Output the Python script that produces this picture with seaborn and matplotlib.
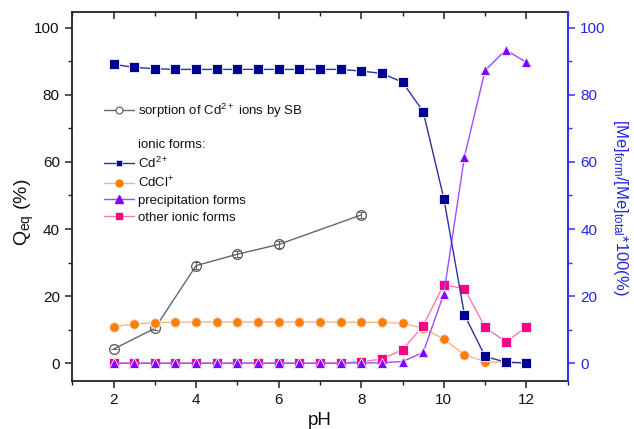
import numpy as np
import pandas as pd
import matplotlib
matplotlib.use("Agg")
import matplotlib.pyplot as plt
from matplotlib.lines import Line2D
from matplotlib.ticker import MultipleLocator
import seaborn as sns

# ---- data ----
ph_forms = [2, 2.5, 3, 3.5, 4, 4.5, 5, 5.5, 6, 6.5, 7, 7.5, 8, 8.5, 9, 9.5, 10, 10.5, 11, 11.5, 12]
cd2 = [89.1, 88.2, 87.8, 87.6, 87.6, 87.6, 87.6, 87.6, 87.6, 87.6, 87.6, 87.6, 87.1, 86.4, 83.8, 75.0, 49.1, 14.4, 2.0, 0.3, 0.1]
cdcl = [10.9, 11.7, 12.1, 12.2, 12.3, 12.3, 12.3, 12.3, 12.3, 12.3, 12.3, 12.2, 12.2, 12.2, 11.9, 10.4, 7.2, 2.5, 0.5, 0.1, 0.0]
precip = [0, 0, 0, 0, 0, 0, 0, 0, 0, 0, 0, 0, 0.1, 0.1, 0.5, 3.2, 20.7, 61.6, 87.3, 93.4, 89.7]
other = [0, 0, 0, 0, 0, 0, 0, 0, 0, 0, 0, 0, 0.5, 1.2, 4.0, 11.2, 23.4, 22.2, 10.7, 6.4, 10.7]

ph_sorp = [2, 3, 4, 5, 6, 8]
sorption = [4.2, 10.4, 29.1, 32.5, 35.4, 44.2]
sorption_err = [0.0, 0.6, 1.0, 0.8, 1.0, 1.0]

x_ticks = [2, 4, 6, 8, 10, 12]
y_ticks = [0, 20, 40, 60, 80, 100]

sns.set_theme(style="ticks")
plt.rcParams['font.family'] = ['Liberation Sans', 'DejaVu Sans']
plt.rcParams['mathtext.fontset'] = 'custom'
plt.rcParams['mathtext.rm'] = 'Liberation Sans'
plt.rcParams['mathtext.it'] = 'Liberation Sans'
plt.rcParams['mathtext.default'] = 'regular'

fig = plt.figure(figsize=(6.34, 4.29), dpi=100)
ax = fig.add_axes([0.114, 0.112, 0.7814, 0.8607])
ax2 = ax.twinx()

# sorption on left axis
df_s = pd.DataFrame({"pH": ph_sorp, "Q": sorption})
ax.errorbar(ph_sorp, sorption, yerr=sorption_err, fmt='none', ecolor='#606060',
            elinewidth=0.7, capsize=2.5, capthick=0.7, zorder=4)
sns.lineplot(data=df_s, x="pH", y="Q", ax=ax, color='#666666', linewidth=1.0,
             marker='o', markersize=7, markerfacecolor='none',
             markeredgecolor='#555555', markeredgewidth=0.9, zorder=3)

# ionic forms on right axis
series = [
    (cdcl, '#ffb380', '#ff8000', 'o', 7.0),
    (other, '#ff77b0', '#ff0080', 's', 7.0),
    (precip, '#9d4dff', '#8000ff', '^', 7.5),
    (cd2, '#3030a0', '#000090', 's', 6.8),
]
for i, (vals, lc, mc, mk, ms) in enumerate(series):
    d = pd.DataFrame({"pH": ph_forms, "v": vals})
    sns.lineplot(data=d, x="pH", y="v", ax=ax2, color=lc, linewidth=1.0,
                 marker=mk, markersize=ms, markerfacecolor=mc,
                 markeredgecolor='#e6e6ff', markeredgewidth=0.7, zorder=3 + i)

ylim = (-5.3, 104.8)
ax.set_xlim(1, 13)
ax.set_ylim(*ylim)
ax2.set_ylim(*ylim)

ax.set_xticks(x_ticks)
ax.xaxis.set_minor_locator(MultipleLocator(1))
ax.set_yticks(y_ticks)
ax.yaxis.set_minor_locator(MultipleLocator(10))
ax2.set_yticks(y_ticks)
ax2.yaxis.set_minor_locator(MultipleLocator(10))

blue = '#3333ff'
blue_txt = '#2626d9'
for s in ['left', 'bottom', 'top']:
    ax.spines[s].set_color('#222222')
    ax.spines[s].set_linewidth(1.3)
    ax.spines[s].set_visible(True)
ax.spines['right'].set_visible(False)
for s in ['left', 'bottom', 'top']:
    ax2.spines[s].set_visible(False)
ax2.spines['right'].set_visible(True)
ax2.spines['right'].set_color(blue)
ax2.spines['right'].set_linewidth(1.5)

ax.tick_params(axis='both', which='major', direction='out', length=5, width=1.1,
               color='#222222', labelsize=11, labelcolor='#111111', pad=4)
ax.tick_params(axis='both', which='minor', direction='out', length=3, width=1.0, color='#222222')
ax.tick_params(axis='x', top=False, which='both')
ax2.tick_params(axis='y', which='major', direction='out', length=5, width=1.1,
                color=blue, labelsize=11, labelcolor=blue_txt, pad=4)
ax2.tick_params(axis='y', which='minor', direction='out', length=3, width=1.0, color=blue)

sec = ax.secondary_xaxis('top')
sec.set_xticks(x_ticks)
sec.xaxis.set_minor_locator(MultipleLocator(1))
sec.tick_params(which='major', direction='in', length=5, width=1.1, color='#222222', labeltop=False)
sec.tick_params(which='minor', direction='in', length=3, width=1.0, color='#222222')
sec.spines['top'].set_visible(False)

ax.set_xlabel('pH', fontsize=13.5, color='#111111', labelpad=3)
ax.set_ylabel('Q$_{eq}$ (%)', fontsize=14, color='#111111')
ax.yaxis.set_label_coords(-0.073, 0.456)
ax2.set_ylabel('[Me]$_{form}$/[Me]$_{total}$*100(%)', fontsize=12, color=blue_txt,
               rotation=270, va='bottom')
ax2.yaxis.set_label_coords(1.0874, 0.471)

# legends
leg_kw = dict(loc='upper left', frameon=False, fontsize=9.5, handlelength=2.3,
              handletextpad=0.25, labelspacing=0.33, borderaxespad=0, borderpad=0)
h_sorp = [Line2D([], [], color='#666666', lw=1, marker='o', markersize=5, markerfacecolor='white',
                 markeredgecolor='#555555', markeredgewidth=0.8)]
leg1 = ax2.legend(h_sorp, ['sorption of Cd$^{2+}$ ions by SB'],
                  bbox_to_anchor=(0.064, 0.757), **leg_kw)
ax2.add_artist(leg1)

handles = [
    Line2D([], [], linestyle='none'),
    Line2D([], [], color='#3030a0', lw=1, marker='s', markersize=5, markerfacecolor='#000090',
           markeredgecolor='#e6e6ff', markeredgewidth=0.5),
    Line2D([], [], color='#ffb380', lw=1, marker='o', markersize=5, markerfacecolor='#ff8000',
           markeredgecolor='#ff8000'),
    Line2D([], [], color='#9d4dff', lw=1, marker='^', markersize=5.5, markerfacecolor='#8000ff',
           markeredgecolor='#8000ff'),
    Line2D([], [], color='#ff77b0', lw=1, marker='s', markersize=5, markerfacecolor='#ff0080',
           markeredgecolor='#ff0080'),
]
labels = ['ionic forms:', 'Cd$^{2+}$', 'CdCl$^{+}$', 'precipitation forms', 'other ionic forms']
leg2 = ax2.legend(handles, labels, bbox_to_anchor=(0.064, 0.655), **leg_kw)
for lg in (leg1, leg2):
    for t in lg.get_texts():
        t.set_color('#111111')

fig.savefig('out.png', dpi=100)
